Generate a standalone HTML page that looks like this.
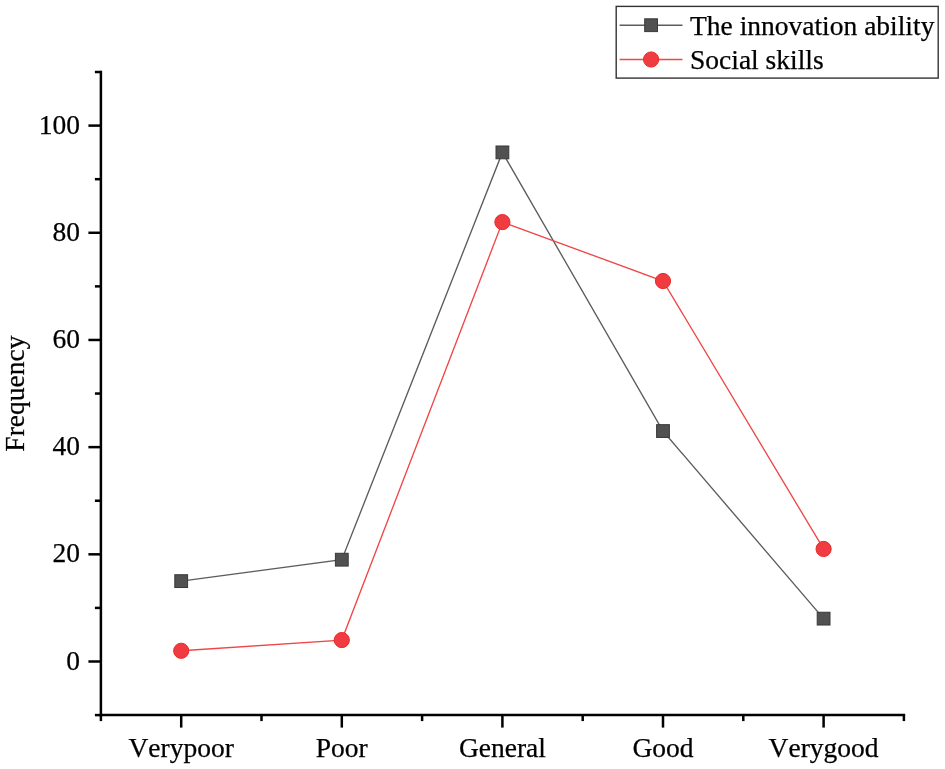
<!DOCTYPE html>
<html><head><meta charset="utf-8"><style>
html,body{margin:0;padding:0;background:#fff;width:945px;height:769px;overflow:hidden}
svg{display:block;will-change:transform}
text{font-kerning:none;stroke:#000;stroke-width:0.25px;font-family:"Liberation Serif",serif;font-size:27.5px;fill:#000}
</style></head><body>
<svg width="945" height="769" viewBox="0 0 945 769">
<line x1="100.90" y1="70.76" x2="100.90" y2="716.34" stroke="#000" stroke-width="2.5"/>
<line x1="99.65" y1="715.09" x2="905.15" y2="715.09" stroke="#000" stroke-width="2.5"/>
<line x1="94.90" y1="715.09" x2="100.90" y2="715.09" stroke="#000" stroke-width="2.5"/>
<line x1="88.40" y1="661.50" x2="100.90" y2="661.50" stroke="#000" stroke-width="2.5"/>
<text x="80" y="669.50" text-anchor="end">0</text>
<line x1="94.90" y1="607.91" x2="100.90" y2="607.91" stroke="#000" stroke-width="2.5"/>
<line x1="88.40" y1="554.32" x2="100.90" y2="554.32" stroke="#000" stroke-width="2.5"/>
<text x="80" y="562.32" text-anchor="end">20</text>
<line x1="94.90" y1="500.73" x2="100.90" y2="500.73" stroke="#000" stroke-width="2.5"/>
<line x1="88.40" y1="447.14" x2="100.90" y2="447.14" stroke="#000" stroke-width="2.5"/>
<text x="80" y="455.14" text-anchor="end">40</text>
<line x1="94.90" y1="393.55" x2="100.90" y2="393.55" stroke="#000" stroke-width="2.5"/>
<line x1="88.40" y1="339.96" x2="100.90" y2="339.96" stroke="#000" stroke-width="2.5"/>
<text x="80" y="347.96" text-anchor="end">60</text>
<line x1="94.90" y1="286.37" x2="100.90" y2="286.37" stroke="#000" stroke-width="2.5"/>
<line x1="88.40" y1="232.78" x2="100.90" y2="232.78" stroke="#000" stroke-width="2.5"/>
<text x="80" y="240.78" text-anchor="end">80</text>
<line x1="94.90" y1="179.19" x2="100.90" y2="179.19" stroke="#000" stroke-width="2.5"/>
<line x1="88.40" y1="125.60" x2="100.90" y2="125.60" stroke="#000" stroke-width="2.5"/>
<text x="80" y="133.60" text-anchor="end">100</text>
<line x1="94.90" y1="72.01" x2="100.90" y2="72.01" stroke="#000" stroke-width="2.5"/>
<line x1="100.90" y1="715.09" x2="100.90" y2="721.09" stroke="#000" stroke-width="2.5"/>
<line x1="181.20" y1="715.09" x2="181.20" y2="727.59" stroke="#000" stroke-width="2.5"/>
<line x1="261.50" y1="715.09" x2="261.50" y2="721.09" stroke="#000" stroke-width="2.5"/>
<line x1="341.80" y1="715.09" x2="341.80" y2="727.59" stroke="#000" stroke-width="2.5"/>
<line x1="422.10" y1="715.09" x2="422.10" y2="721.09" stroke="#000" stroke-width="2.5"/>
<line x1="502.40" y1="715.09" x2="502.40" y2="727.59" stroke="#000" stroke-width="2.5"/>
<line x1="582.70" y1="715.09" x2="582.70" y2="721.09" stroke="#000" stroke-width="2.5"/>
<line x1="663.00" y1="715.09" x2="663.00" y2="727.59" stroke="#000" stroke-width="2.5"/>
<line x1="743.30" y1="715.09" x2="743.30" y2="721.09" stroke="#000" stroke-width="2.5"/>
<line x1="823.60" y1="715.09" x2="823.60" y2="727.59" stroke="#000" stroke-width="2.5"/>
<line x1="903.90" y1="715.09" x2="903.90" y2="721.09" stroke="#000" stroke-width="2.5"/>
<text x="181.20" y="757" text-anchor="middle">Verypoor</text>
<text x="341.80" y="757" text-anchor="middle">Poor</text>
<text x="502.40" y="757" text-anchor="middle">General</text>
<text x="663.00" y="757" text-anchor="middle">Good</text>
<text x="823.60" y="757" text-anchor="middle">Verygood</text>
<text transform="translate(24.0,393.6) rotate(-90)" text-anchor="middle" font-size="28">Frequency</text>
<polyline points="181.20,581.12 341.80,559.68 502.40,152.39 663.00,431.06 823.60,618.63" fill="none" stroke="#5c5c5c" stroke-width="1.35"/>
<polyline points="181.20,650.78 341.80,640.06 502.40,222.06 663.00,281.01 823.60,548.96" fill="none" stroke="#f04646" stroke-width="1.35"/>
<rect x="174.80" y="574.72" width="12.8" height="12.8" fill="#515151" stroke="#3a3a3a" stroke-width="1"/>
<rect x="335.40" y="553.28" width="12.8" height="12.8" fill="#515151" stroke="#3a3a3a" stroke-width="1"/>
<rect x="496.00" y="145.99" width="12.8" height="12.8" fill="#515151" stroke="#3a3a3a" stroke-width="1"/>
<rect x="656.60" y="424.66" width="12.8" height="12.8" fill="#515151" stroke="#3a3a3a" stroke-width="1"/>
<rect x="817.20" y="612.23" width="12.8" height="12.8" fill="#515151" stroke="#3a3a3a" stroke-width="1"/>
<circle cx="181.20" cy="650.78" r="7.6" fill="#f03c41" stroke="#e62a2a" stroke-width="1"/>
<circle cx="341.80" cy="640.06" r="7.6" fill="#f03c41" stroke="#e62a2a" stroke-width="1"/>
<circle cx="502.40" cy="222.06" r="7.6" fill="#f03c41" stroke="#e62a2a" stroke-width="1"/>
<circle cx="663.00" cy="281.01" r="7.6" fill="#f03c41" stroke="#e62a2a" stroke-width="1"/>
<circle cx="823.60" cy="548.96" r="7.6" fill="#f03c41" stroke="#e62a2a" stroke-width="1"/>
<rect x="616.2" y="6.4" width="322" height="71.7" fill="#fff" stroke="#333" stroke-width="1.4"/>
<line x1="619.6" y1="25.2" x2="682.5" y2="25.2" stroke="#5c5c5c" stroke-width="1.35"/>
<rect x="644.7" y="18.8" width="12.8" height="12.8" fill="#515151" stroke="#3a3a3a" stroke-width="1"/>
<line x1="619.6" y1="59.5" x2="682.5" y2="59.5" stroke="#f04646" stroke-width="1.35"/>
<circle cx="651.1" cy="59.5" r="7.6" fill="#f03c41" stroke="#e62a2a" stroke-width="1"/>
<text x="690" y="34.9" font-size="27.3">The innovation ability</text>
<text x="690" y="68.6" font-size="27.3">Social skills</text>
</svg>
</body></html>
